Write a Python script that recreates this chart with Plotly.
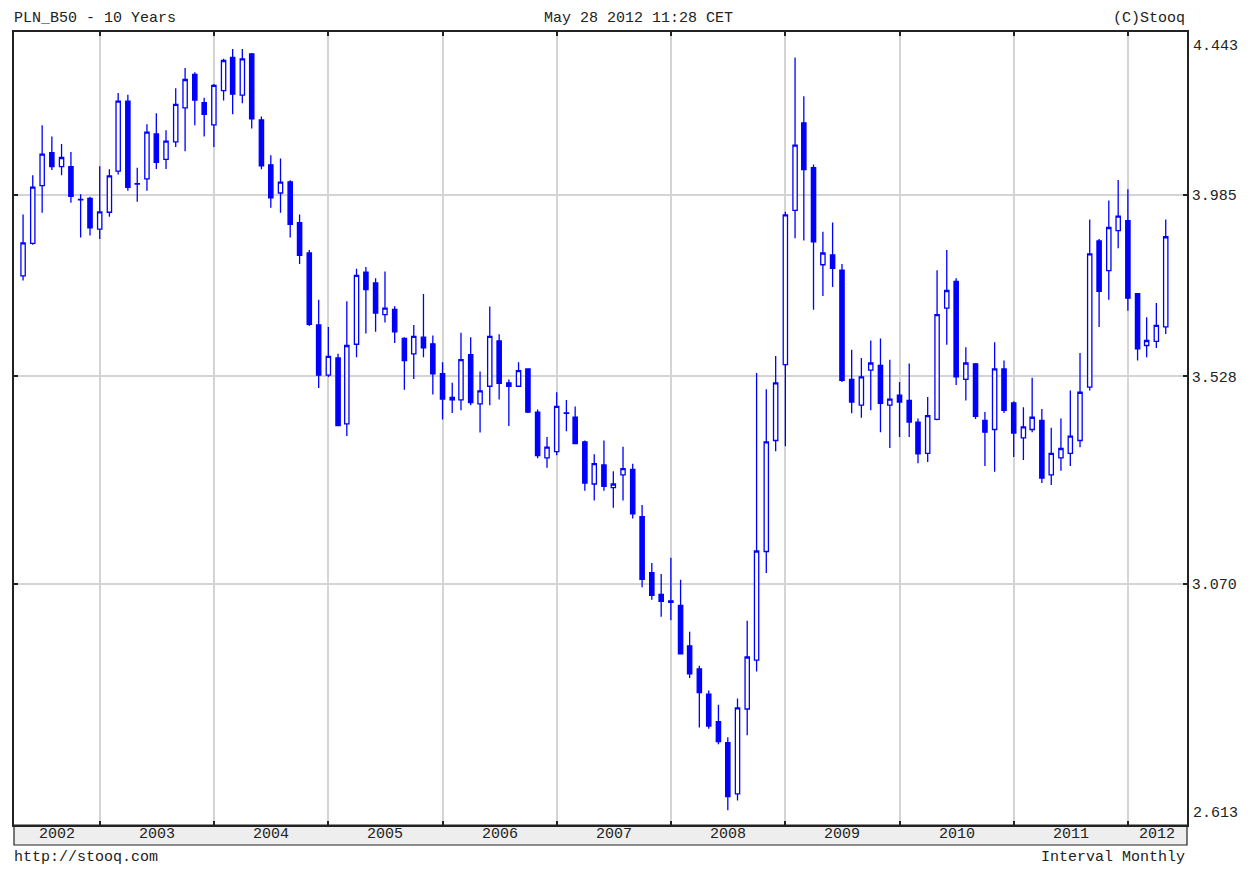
import math
import pandas as pd
import plotly.graph_objects as go

# Monthly candles, May 2002 .. May 2012
months = pd.date_range("2002-05-01", "2012-05-01", freq="MS")

open_ = [3.774, 3.857, 4.009, 4.098, 4.060, 4.060, 3.972, 3.975, 3.894, 3.938,
         4.048, 4.242, 4.014, 4.027, 4.150, 4.080, 4.128, 4.223, 4.319, 4.238,
         4.175, 4.272, 4.368, 4.259, 4.378, 4.189, 4.065, 3.989, 4.019, 3.911,
         3.832, 3.652, 3.531, 3.572, 3.418, 3.605, 3.783, 3.756, 3.677, 3.690,
         3.619, 3.582, 3.622, 3.606, 3.535, 3.479, 3.473, 3.580, 3.464, 3.505,
         3.613, 3.513, 3.505, 3.546, 3.445, 3.341, 3.355, 3.443, 3.433, 3.377,
         3.283, 3.325, 3.275, 3.303, 3.315, 3.212, 3.094, 3.049, 3.036, 3.027,
         2.946, 2.901, 2.852, 2.800, 2.761, 2.668, 2.824, 2.918, 3.138, 3.380,
         3.556, 3.943, 4.181, 4.057, 3.802, 3.827, 3.788, 3.521, 3.461, 3.543,
         3.554, 3.461, 3.484, 3.472, 3.422, 3.351, 3.428, 3.693, 3.760, 3.521,
         3.558, 3.426, 3.405, 3.546, 3.466, 3.386, 3.405, 3.426, 3.303, 3.341,
         3.351, 3.380, 3.503, 3.863, 3.787, 3.890, 3.916, 3.729, 3.602, 3.612,
         3.647]
high = [3.932, 4.037, 4.174, 4.143, 4.122, 4.100, 3.986, 3.979, 4.061, 4.053,
        4.265, 4.260, 4.057, 4.177, 4.208, 4.160, 4.279, 4.337, 4.325, 4.252,
        4.291, 4.364, 4.393, 4.393, 4.381, 4.199, 4.091, 4.082, 4.023, 3.932,
        3.840, 3.714, 3.647, 3.582, 3.710, 3.792, 3.796, 3.768, 3.785, 3.698,
        3.622, 3.652, 3.728, 3.626, 3.562, 3.513, 3.633, 3.622, 3.540, 3.697,
        3.629, 3.521, 3.562, 3.546, 3.451, 3.388, 3.491, 3.473, 3.458, 3.380,
        3.349, 3.380, 3.311, 3.366, 3.328, 3.237, 3.114, 3.091, 3.125, 3.079,
        2.974, 2.907, 2.859, 2.832, 2.771, 2.844, 2.996, 3.536, 3.498, 3.577,
        3.939, 4.368, 4.256, 4.066, 3.887, 3.911, 3.804, 3.592, 3.572, 3.614,
        3.619, 3.568, 3.515, 3.559, 3.430, 3.480, 3.788, 3.840, 3.768, 3.598,
        3.560, 3.445, 3.610, 3.566, 3.470, 3.456, 3.525, 3.452, 3.409, 3.430,
        3.495, 3.584, 3.919, 3.868, 3.969, 4.024, 3.999, 3.731, 3.671, 3.706,
        3.919]
low = [3.762, 3.853, 3.937, 4.051, 4.037, 3.963, 3.872, 3.877, 3.868, 3.926,
       4.039, 3.995, 3.966, 3.995, 4.054, 4.054, 4.114, 4.102, 4.174, 4.143,
       4.114, 4.244, 4.205, 4.236, 4.165, 4.053, 3.950, 3.937, 3.872, 3.804,
       3.649, 3.501, 3.527, 3.413, 3.390, 3.574, 3.631, 3.635, 3.658, 3.608,
       3.497, 3.522, 3.574, 3.486, 3.428, 3.443, 3.449, 3.461, 3.398, 3.461,
       3.474, 3.413, 3.505, 3.443, 3.340, 3.319, 3.347, 3.401, 3.373, 3.268,
       3.247, 3.268, 3.231, 3.247, 3.208, 3.064, 3.038, 3.004, 2.997, 2.930,
       2.883, 2.789, 2.787, 2.758, 2.639, 2.656, 2.775, 2.896, 3.093, 3.356,
       3.367, 3.870, 3.864, 3.689, 3.723, 3.746, 3.515, 3.442, 3.432, 3.449,
       3.399, 3.363, 3.388, 3.388, 3.329, 3.332, 3.426, 3.604, 3.508, 3.472,
       3.429, 3.323, 3.310, 3.443, 3.343, 3.336, 3.399, 3.285, 3.281, 3.312,
       3.323, 3.365, 3.495, 3.647, 3.714, 3.844, 3.687, 3.566, 3.574, 3.596,
       3.630]
close = [3.858, 4.005, 4.094, 4.060, 4.085, 3.980, 3.971, 3.897, 3.939, 4.035,
         4.242, 4.004, 4.013, 4.155, 4.072, 4.130, 4.233, 4.304, 4.245, 4.205,
         4.287, 4.359, 4.262, 4.364, 4.192, 4.062, 3.976, 4.018, 3.906, 3.826,
         3.653, 3.531, 3.576, 3.414, 3.602, 3.775, 3.739, 3.681, 3.693, 3.635,
         3.566, 3.624, 3.596, 3.534, 3.475, 3.473, 3.568, 3.467, 3.494, 3.624,
         3.512, 3.505, 3.542, 3.445, 3.346, 3.365, 3.458, 3.442, 3.373, 3.285,
         3.328, 3.278, 3.283, 3.317, 3.218, 3.080, 3.047, 3.035, 3.033, 2.930,
         2.891, 2.855, 2.792, 2.763, 2.663, 2.826, 2.924, 3.139, 3.377, 3.513,
         3.931, 4.119, 4.052, 3.861, 3.832, 3.793, 3.519, 3.468, 3.527, 3.560,
         3.465, 3.475, 3.468, 3.422, 3.350, 3.437, 3.677, 3.737, 3.527, 3.560,
         3.435, 3.399, 3.546, 3.449, 3.397, 3.411, 3.433, 3.296, 3.351, 3.362,
         3.390, 3.491, 3.830, 3.735, 3.898, 3.928, 3.718, 3.594, 3.614, 3.651,
         3.874]

year_ticks = [f"{y}-01-01" for y in range(2003, 2013)]
year_labels = [str(y) for y in range(2002, 2013)]
price_ticks = [3.070, 3.528, 3.985]
price_min, price_max = 2.613, 4.443

BLUE = "#0000ff"
FONT = "Liberation Mono"
x_start, x_end = pd.Timestamp("2002-04-02"), pd.Timestamp("2012-07-08")

fig = go.Figure(go.Candlestick(
    x=months, open=open_, high=high, low=low, close=close,
    increasing=dict(line=dict(color=BLUE, width=1.3), fillcolor="white"),
    decreasing=dict(line=dict(color=BLUE, width=1.3), fillcolor=BLUE),
    whiskerwidth=0, showlegend=False, hoverinfo="skip",
))

plot_h = 793
band = 20 / plot_h

shapes = [dict(type="rect", xref="paper", yref="paper", x0=0, x1=1, y0=-band, y1=0,
               fillcolor="#eeeeee", line=dict(color="#222", width=1.2), layer="below")]

annotations = []
# year labels centred in each year segment of the band
bounds = [x_start] + [pd.Timestamp(t) for t in year_ticks] + [x_end]
for i, lab in enumerate(year_labels):
    a, b = bounds[i], bounds[i + 1]
    mid = a + (b - a) / 2
    annotations.append(dict(x=mid, y=-band / 2, xref="x", yref="paper", text=lab,
                            showarrow=False, xanchor="center", yanchor="middle",
                            font=dict(family=FONT, size=15, color="#222")))

txt = dict(family=FONT, size=15, color="#222")
annotations += [
    dict(x=1, y=1, xref="paper", yref="paper", text=f"{price_max:.3f}", showarrow=False,
         xanchor="left", yanchor="top", xshift=4, yshift=-4, font=txt),
    dict(x=1, y=0, xref="paper", yref="paper", text=f"{price_min:.3f}", showarrow=False,
         xanchor="left", yanchor="bottom", xshift=4, yshift=1, font=txt),
    dict(x=0, y=1, xref="paper", yref="paper", text="PLN_B50 - 10 Years", showarrow=False,
         xanchor="left", yanchor="bottom", xshift=-2, yshift=3, font=txt),
    dict(x=(541 - 12) / 1175, y=1, xref="paper", yref="paper", text="May 28 2012 11:28 CET",
         showarrow=False, xanchor="left", yanchor="bottom", yshift=3, font=txt),
    dict(x=1, y=1, xref="paper", yref="paper", text="(C)Stooq", showarrow=False,
         xanchor="right", yanchor="bottom", yshift=3, font=txt),
    dict(x=0, y=-band, xref="paper", yref="paper", text="http://stooq.com", showarrow=False,
         xanchor="left", yanchor="top", xshift=-2, yshift=-2, font=txt),
    dict(x=1, y=-band, xref="paper", yref="paper", text="Interval Monthly", showarrow=False,
         xanchor="right", yanchor="top", yshift=-2, font=txt),
]

fig.update_layout(
    width=1245, height=865,
    margin=dict(l=4, r=66, t=24, b=48),
    paper_bgcolor="white", plot_bgcolor="white",
    shapes=shapes, annotations=annotations,
    xaxis=dict(type="date", range=[x_start, x_end], rangeslider=dict(visible=False),
               tickvals=year_ticks, showticklabels=False,
               showgrid=True, gridcolor="#d4d4d4", gridwidth=1.5,
               ticks="inside", ticklen=4, tickcolor="#222", tickwidth=1.5,
               showline=True, linecolor="#222", linewidth=1.5, mirror="ticks",
               zeroline=False, fixedrange=True),
    yaxis=dict(type="log", range=[math.log10(price_min), math.log10(price_max)],
               side="right", tickvals=price_ticks, ticktext=[f"{v:.3f}" for v in price_ticks],
               showgrid=True, gridcolor="#d4d4d4", gridwidth=1.5,
               ticks="inside", ticklen=4, tickcolor="#222", tickwidth=1.5,
               showline=True, linecolor="#222", linewidth=1.5, mirror="ticks",
               tickfont=txt, zeroline=False, fixedrange=True),
)

fig.write_html("out.html")
